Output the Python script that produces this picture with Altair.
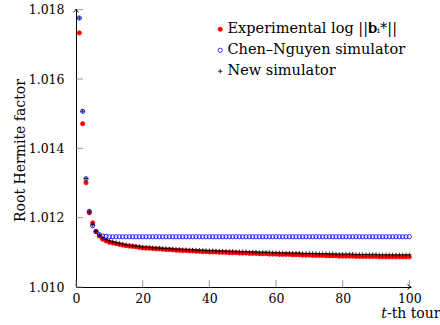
import altair as alt
import pandas as pd

tours = list(range(1, 101))

experimental = [
    1.01733, 1.01471, 1.01301, 1.01214, 1.01185, 1.01160, 1.01147, 1.01138, 1.01133, 1.01129,
    1.01127, 1.01125, 1.01123, 1.01121, 1.01119, 1.01118, 1.01117, 1.01116, 1.01114, 1.01113,
    1.01112, 1.01112, 1.01111, 1.01110, 1.01110, 1.01109, 1.01108, 1.01108, 1.01107, 1.01106,
    1.01106, 1.01105, 1.01105, 1.01104, 1.01104, 1.01103, 1.01103, 1.01102, 1.01102, 1.01101,
    1.01101, 1.01101, 1.01100, 1.01100, 1.01100, 1.01099, 1.01099, 1.01099, 1.01098, 1.01098,
    1.01098, 1.01097, 1.01097, 1.01097, 1.01096, 1.01096, 1.01096, 1.01095, 1.01095, 1.01095,
    1.01094, 1.01094, 1.01094, 1.01094, 1.01093, 1.01093, 1.01093, 1.01092, 1.01092, 1.01092,
    1.01091, 1.01091, 1.01091, 1.01091, 1.01090, 1.01090, 1.01090, 1.01090, 1.01089, 1.01089,
    1.01089, 1.01089, 1.01089, 1.01088, 1.01088, 1.01088, 1.01088, 1.01088, 1.01088, 1.01088,
    1.01087, 1.01087, 1.01087, 1.01087, 1.01087, 1.01087, 1.01087, 1.01087, 1.01087, 1.01087,
]

chen_nguyen = [
    1.01776, 1.01507, 1.01312, 1.01218, 1.01177, 1.01160, 1.01151, 1.01147, 1.01146, 1.01145,
    1.01145, 1.01145, 1.01145, 1.01145, 1.01145, 1.01145, 1.01145, 1.01145, 1.01145, 1.01145,
    1.01145, 1.01145, 1.01145, 1.01145, 1.01145, 1.01145, 1.01145, 1.01145, 1.01145, 1.01145,
    1.01145, 1.01145, 1.01145, 1.01145, 1.01145, 1.01145, 1.01145, 1.01145, 1.01145, 1.01145,
    1.01145, 1.01145, 1.01145, 1.01145, 1.01145, 1.01145, 1.01145, 1.01145, 1.01145, 1.01145,
    1.01145, 1.01145, 1.01145, 1.01145, 1.01145, 1.01145, 1.01145, 1.01145, 1.01145, 1.01145,
    1.01145, 1.01145, 1.01145, 1.01145, 1.01145, 1.01145, 1.01145, 1.01145, 1.01145, 1.01145,
    1.01145, 1.01145, 1.01145, 1.01145, 1.01145, 1.01145, 1.01145, 1.01145, 1.01145, 1.01145,
    1.01145, 1.01145, 1.01145, 1.01145, 1.01145, 1.01145, 1.01145, 1.01145, 1.01145, 1.01145,
    1.01145, 1.01145, 1.01145, 1.01145, 1.01145, 1.01145, 1.01145, 1.01145, 1.01145, 1.01145,
]

new_simulator = [
    1.01776, 1.01507, 1.01313, 1.01219, 1.01179, 1.01161, 1.01150, 1.01142, 1.01137, 1.01134,
    1.01131, 1.01128, 1.01126, 1.01124, 1.01122, 1.01121, 1.01119, 1.01118, 1.01117, 1.01115,
    1.01115, 1.01114, 1.01113, 1.01113, 1.01112, 1.01111, 1.01111, 1.01110, 1.01110, 1.01109,
    1.01109, 1.01108, 1.01108, 1.01107, 1.01107, 1.01107, 1.01106, 1.01106, 1.01105, 1.01105,
    1.01105, 1.01104, 1.01104, 1.01104, 1.01103, 1.01103, 1.01103, 1.01102, 1.01102, 1.01102,
    1.01102, 1.01101, 1.01101, 1.01101, 1.01100, 1.01100, 1.01100, 1.01100, 1.01099, 1.01099,
    1.01099, 1.01099, 1.01098, 1.01098, 1.01098, 1.01098, 1.01098, 1.01097, 1.01097, 1.01097,
    1.01097, 1.01097, 1.01096, 1.01096, 1.01096, 1.01096, 1.01096, 1.01095, 1.01095, 1.01095,
    1.01095, 1.01095, 1.01095, 1.01094, 1.01094, 1.01094, 1.01094, 1.01094, 1.01094, 1.01094,
    1.01093, 1.01093, 1.01093, 1.01093, 1.01093, 1.01093, 1.01093, 1.01093, 1.01093, 1.01093,
]

series_names = ["Experimental log ||\U0001D41B\u1D62*||", "Chen\u2013Nguyen simulator", "New simulator"]
series_fill = ["#ff0000", "transparent", "#000000"]
series_stroke = ["#ff0000", "#0000ff", "#000000"]
x_ticks = [0, 20, 40, 60, 80, 100]
y_ticks = [1.010, 1.012, 1.014, 1.016, 1.018]
x_max = 100.5
y_max = 1.01802

CROSS = "M-1,0L1,0M0,-1L0,1"
ARROW_RIGHT = "M-2,-1.4Q-0.6,-0.3,0,0Q-0.6,0.3,-2,1.4"
ARROW_UP = "M-1.4,2Q-0.3,0.6,0,0Q0.3,0.6,1.4,2"

rows = []
for name, vals in zip(series_names, [experimental, chen_nguyen, new_simulator]):
    for t, v in zip(tours, vals):
        rows.append({"tour": t, "value": v, "series": name})
df = pd.DataFrame(rows)

W, H = 335, 278
FONT = "DejaVu Serif"

xscale = alt.Scale(domain=[0, x_max], nice=False, zero=False)
yscale = alt.Scale(domain=[1.010, y_max], nice=False, zero=False)

x_axis = alt.Axis(
    values=x_ticks, title="\U0001D461-th tour", labelPadding=5,
    titleX=364, titleY=30, titleAlign="right", titleBaseline="alphabetic",
    titleAnchor="end")
y_axis = alt.Axis(
    values=y_ticks, format=".3f", title="Root Hermite factor", labelPadding=12,
    titleX=-52, titleY=141, titleAngle=-90, titleAlign="center",
    titleBaseline="alphabetic")

legend = alt.Legend(
    orient="none", legendX=137, legendY=13, title=None,
    labelFont=FONT, labelFontSize=14.5, labelColor="black", labelLimit=400,
    symbolSize=18, symbolStrokeWidth=0.8, labelOffset=0,
    rowPadding=6, padding=0,
)

points = alt.Chart(df).mark_point(opacity=1, strokeWidth=0.8, size=18).encode(
    x=alt.X("tour:Q", scale=xscale, axis=x_axis),
    y=alt.Y("value:Q", scale=yscale, axis=y_axis),
    shape=alt.Shape("series:N", scale=alt.Scale(domain=series_names, range=["circle", "circle", CROSS]), legend=legend),
    fill=alt.Fill("series:N", scale=alt.Scale(domain=series_names, range=series_fill), legend=legend),
    stroke=alt.Stroke("series:N", scale=alt.Scale(domain=series_names, range=series_stroke), legend=legend),
)

xt = alt.Chart(pd.DataFrame({"tour": x_ticks})).mark_rule(color="#808080", strokeWidth=0.8).encode(
    x=alt.X("tour:Q", scale=xscale, axis=x_axis), y=alt.value(H), y2=alt.value(H - 7))
yt = alt.Chart(pd.DataFrame({"value": y_ticks})).mark_rule(color="#808080", strokeWidth=0.8).encode(
    y=alt.Y("value:Q", scale=yscale, axis=y_axis), x=alt.value(0), x2=alt.value(7))

arrow_x = alt.Chart(pd.DataFrame({"tour": [x_max], "value": [1.010]})).mark_point(
    shape=ARROW_RIGHT, size=12, filled=False, stroke="black", strokeWidth=0.9, opacity=1).encode(
    x=alt.X("tour:Q", scale=xscale, axis=x_axis), y=alt.Y("value:Q", scale=yscale, axis=y_axis))
arrow_y = alt.Chart(pd.DataFrame({"tour": [0], "value": [y_max]})).mark_point(
    shape=ARROW_UP, size=12, filled=False, stroke="black", strokeWidth=0.9, opacity=1).encode(
    x=alt.X("tour:Q", scale=xscale, axis=x_axis), y=alt.Y("value:Q", scale=yscale, axis=y_axis))

chart = alt.layer(points, xt, yt, arrow_x, arrow_y).properties(
    width=W, height=H,
    autosize=alt.AutoSizeParams(type="none"),
    padding={"left": 76, "top": 9, "right": 29, "bottom": 38},
    background="white",
).configure_view(stroke=None).configure_axis(
    grid=False, ticks=False, domainColor="black", domainWidth=1,
    labelFont=FONT, labelFontSize=12.5, labelColor="black",
    titleFont=FONT, titleFontSize=14, titleFontWeight="normal", titleColor="black",
    labelFlush=False, labelOverlap=False,
)

chart.save("out.html", embed_options={"renderer": "svg", "actions": False})
